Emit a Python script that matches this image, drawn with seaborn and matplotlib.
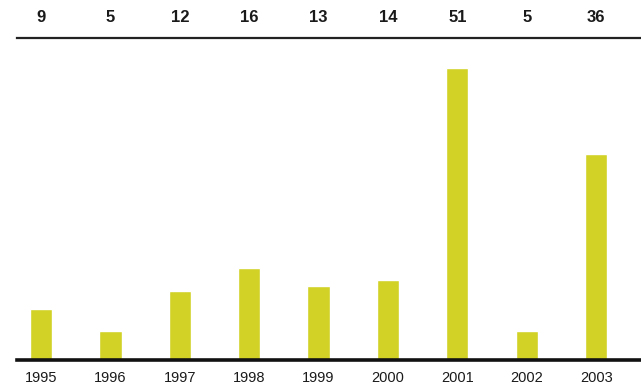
import seaborn as sns, matplotlib.pyplot as plt
import pandas as pd

years = ['1995', '1996', '1997', '1998', '1999', '2000', '2001', '2002', '2003']
values = [9, 5, 12, 16, 13, 14, 51, 5, 36]

df = pd.DataFrame({'year': years, 'value': values})

sns.set_style('white')
plt.rcParams['font.family'] = ['Liberation Sans', 'DejaVu Sans']

fig = plt.figure(figsize=(6.41, 3.87), dpi=100)
# ejes colocados a mano: base en y=360 px, linea superior en y=38 px
ax = fig.add_axes([17 / 641, 27 / 387, 624 / 641, 322 / 387])

sns.barplot(x='year', y='value', data=df, color='#d2d226', width=0.32,
            saturation=1, ax=ax)

ax.set_xlim(-0.346, 8.646)
ax.set_ylim(0, 56.3)

for s in ['left', 'right']:
    ax.spines[s].set_visible(False)
ax.spines['bottom'].set_linewidth(2.6)
ax.spines['top'].set_linewidth(1.6)
ax.spines['bottom'].set_color('#111111')
ax.spines['top'].set_color('#222222')

ax.set_yticks([])
ax.tick_params(axis='x', length=0, pad=8, labelsize=10.5, colors='#1a1a1a')
ax.set_xlabel('')
ax.set_ylabel('')

# valores arriba de la linea superior
for i, v in enumerate(values):
    ax.text(i, 59.8, str(v), ha='center', va='center', fontsize=12,
            fontweight='bold', color='#1a1a1a', clip_on=False)

fig.savefig('out.png', dpi=100)
